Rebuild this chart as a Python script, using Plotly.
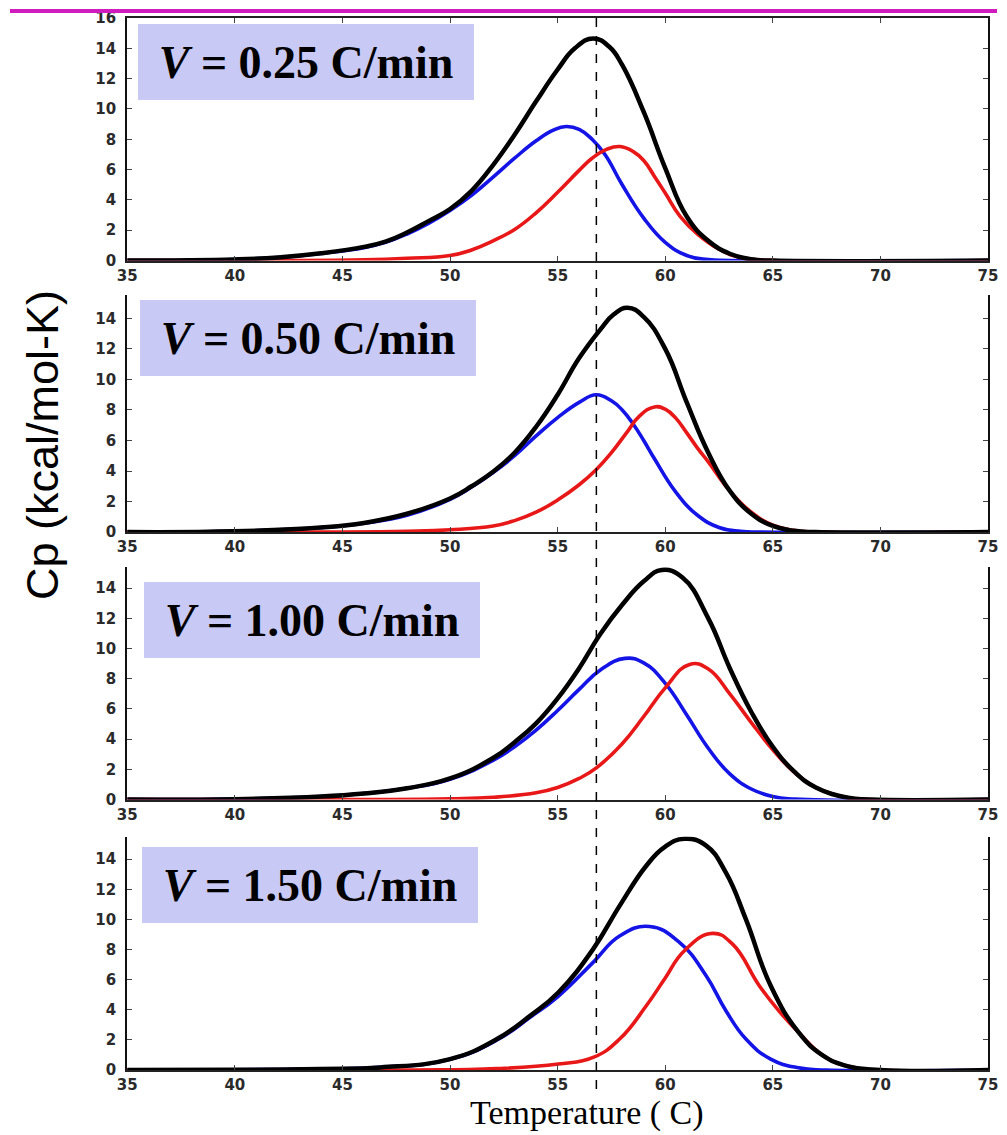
import plotly.graph_objects as go

# ---------------- data ----------------
RATES = ["0.25", "0.50", "1.00", "1.50"]
X_TICKS = [35, 40, 45, 50, 55, 60, 65, 70, 75]
Y_TICKS_TOP = [0, 2, 4, 6, 8, 10, 12, 14, 16]
Y_TICKS = [0, 2, 4, 6, 8, 10, 12, 14]
REF_T = 56.8  # dashed reference temperature

# Panel 1 : V = 0.25 C/min
T1_black = [35, 40, 42, 44, 46, 47, 48, 49, 50, 51, 52, 53, 54, 55, 55.8, 56.65, 57.4, 58, 59, 60, 61, 62, 63, 64, 65, 75]
Cp1_black = [0, 0.07, 0.2, 0.48, 0.9, 1.25, 1.85, 2.6, 3.4, 4.6, 6.3, 8.3, 10.5, 12.6, 14.0, 14.65, 14.1, 12.9, 9.8, 6.1, 2.9, 1.3, 0.45, 0.08, 0, 0]
T1_blue = [35, 40, 42, 44, 46, 47, 48, 49, 50, 51, 52, 53, 54, 54.8, 55.4, 56, 56.6, 57.2, 58, 59, 60, 61, 62, 63, 75]
Cp1_blue = [0, 0.07, 0.2, 0.47, 0.85, 1.2, 1.75, 2.45, 3.3, 4.3, 5.5, 6.75, 7.9, 8.6, 8.84, 8.65, 8.0, 7.0, 5.0, 2.8, 1.2, 0.33, 0.06, 0, 0]
T1_red = [35, 42, 46, 48, 50, 51, 52, 53, 54, 55, 56, 56.6, 57.3, 57.9, 58.5, 59, 59.5, 60, 60.7, 61.5, 62.5, 63.5, 65, 75]
Cp1_red = [0, 0, 0.05, 0.15, 0.33, 0.7, 1.3, 2.05, 3.15, 4.5, 5.95, 6.75, 7.35, 7.52, 7.2, 6.6, 5.55, 4.45, 2.9, 1.75, 0.75, 0.2, 0, 0]

# Panel 2 : V = 0.50 C/min
T2_black = [35, 40, 44, 46, 48, 50, 51, 52, 53, 54, 55, 56, 57, 57.6, 58.25, 59, 60, 61, 62, 63, 64, 65, 66, 67, 75]
Cp2_black = [0, 0.05, 0.3, 0.6, 1.2, 2.2, 3.0, 3.95, 5.2, 6.9, 9.0, 11.4, 13.3, 14.25, 14.7, 14.1, 12.0, 8.5, 5.2, 2.7, 1.2, 0.4, 0.08, 0, 0]
T2_blue = [35, 40, 44, 46, 48, 50, 51, 52, 53, 54, 55, 56, 56.8, 57.5, 58, 58.5, 59, 59.5, 60.5, 61.5, 62.5, 63.5, 64.5, 75]
Cp2_blue = [0, 0.05, 0.3, 0.58, 1.1, 2.15, 2.95, 3.9, 5.0, 6.3, 7.5, 8.5, 9.0, 8.6, 8.0, 7.1, 6.0, 4.8, 2.6, 1.1, 0.3, 0.05, 0, 0]
T2_red = [35, 44, 48, 50, 52, 53, 54, 55, 56, 56.8, 57.5, 58.2, 58.8, 59.5, 60, 60.5, 61, 61.5, 62, 63, 64, 65, 66, 67, 75]
Cp2_red = [0, 0, 0.05, 0.15, 0.4, 0.75, 1.3, 2.1, 3.1, 4.1, 5.2, 6.5, 7.6, 8.2, 8.05, 7.45, 6.5, 5.5, 4.6, 2.7, 1.3, 0.45, 0.1, 0, 0]

# Panel 3 : V = 1.00 C/min
T3_black = [35, 40, 44, 46, 48, 50, 52, 53, 54, 55, 56, 57, 58, 59, 59.83, 60.8, 62, 63, 64, 65, 66, 67, 68.5, 69.5, 75]
Cp3_black = [0, 0.03, 0.2, 0.4, 0.75, 1.4, 2.75, 3.8, 5.05, 6.7, 8.7, 11.0, 12.9, 14.45, 15.2, 14.7, 12.0, 8.7, 5.8, 3.5, 1.85, 0.8, 0.12, 0, 0]
T3_blue = [35, 40, 44, 46, 48, 50, 52, 53, 54, 55, 56, 57, 58.13, 59, 60, 61, 62, 63, 64, 65, 66, 75]
Cp3_blue = [0, 0.03, 0.2, 0.4, 0.75, 1.35, 2.6, 3.5, 4.6, 5.9, 7.3, 8.6, 9.35, 9.05, 7.7, 5.6, 3.4, 1.7, 0.7, 0.2, 0.03, 0]
T3_red = [35, 46, 50, 52, 54, 55, 56, 56.8, 58, 59, 60, 61.13, 62, 63, 64, 65, 66, 67, 68.5, 69.5, 75]
Cp3_red = [0, 0, 0.05, 0.15, 0.45, 0.8, 1.4, 2.1, 3.7, 5.5, 7.4, 8.95, 8.65, 7.0, 5.1, 3.3, 1.8, 0.8, 0.12, 0, 0]

# Panel 4 : V = 1.50 C/min
T4_black = [35, 40, 44, 46.77, 50, 52.18, 53.72, 55.03, 56.65, 57.88, 59.12, 59.97, 60.89, 61.9, 62.82, 63.75, 64.9, 66.2, 67.3, 68.5, 70, 75]
Cp4_black = [0, 0.02, 0.08, 0.18, 0.73, 2.06, 3.6, 5.15, 8.03, 10.9, 13.56, 14.8, 15.35, 14.9, 13.1, 10.0, 5.6, 2.5, 1.0, 0.25, 0, 0]
T4_blue = [35, 40, 44, 46.77, 50, 52.18, 53.72, 55.03, 56.65, 57.88, 59.27, 60.66, 61.9, 62.82, 63.75, 64.9, 66.2, 67.5, 75]
Cp4_blue = [0, 0.02, 0.08, 0.18, 0.72, 2.0, 3.5, 4.9, 7.15, 8.9, 9.53, 8.47, 6.26, 3.94, 2.06, 0.73, 0.15, 0, 0]
T4_red = [35, 48, 52.18, 55.03, 56.65, 57.88, 59.12, 59.97, 60.89, 62.2, 63.13, 64.37, 65.3, 66.2, 67.3, 68.5, 70, 75]
Cp4_red = [0, 0, 0.1, 0.4, 0.84, 2.06, 4.27, 6.04, 7.92, 9.07, 8.36, 5.6, 3.9, 2.5, 1.0, 0.25, 0, 0]

# ---------------- figure ----------------
W, H = 1007, 1135
# the photographed page is inset by ~8px; place elements so that
# they land at the reference pixel positions.
INSET = 8.0
SX = (W - 2 * INSET) / W
SY = (H - 2 * INSET) / H


def fx(px):  # reference pixel x -> paper fraction
    return (px - INSET) / (W * SX)


def fy(py):  # reference pixel y (from top) -> paper fraction (from bottom)
    return 1 - (py - INSET) / (H * SY)


def sz(v):  # reference pixel size -> design size
    return v / SX


panels = [
    (T1_black, Cp1_black, T1_blue, Cp1_blue, T1_red, Cp1_red),
    (T2_black, Cp2_black, T2_blue, Cp2_blue, T2_red, Cp2_red),
    (T3_black, Cp3_black, T3_blue, Cp3_blue, T3_red, Cp3_red),
    (T4_black, Cp4_black, T4_blue, Cp4_blue, T4_red, Cp4_red),
]
# pixel layout of each panel: (top, bottom, ymax), box (left, top)
panel_px = [(17, 260, 16.0), (295, 532, 15.5), (567, 800, 15.4), (837, 1071, 15.5)]
box_px = [(137, 23), (139, 300), (143, 582), (141, 848)]
X_LEFT, X_RIGHT = 125.7, 990.0

BLUE = "#1414E6"
RED = "#E81818"
fig = go.Figure()
for i, (tb, cb, tu, cu, tr, cr) in enumerate(panels):
    xa = "x" if i == 0 else f"x{i+1}"
    ya = "y" if i == 0 else f"y{i+1}"
    fig.add_trace(go.Scatter(x=tu, y=cu, mode="lines", line=dict(color=BLUE, width=3.6, shape="spline", smoothing=1.3),
                             xaxis=xa, yaxis=ya, showlegend=False, hoverinfo="skip"))
    fig.add_trace(go.Scatter(x=tr, y=cr, mode="lines", line=dict(color=RED, width=3.6, shape="spline", smoothing=1.3),
                             xaxis=xa, yaxis=ya, showlegend=False, hoverinfo="skip"))
    fig.add_trace(go.Scatter(x=tb, y=cb, mode="lines", line=dict(color="black", width=4.5, shape="spline", smoothing=1.3),
                             xaxis=xa, yaxis=ya, showlegend=False, hoverinfo="skip"))

tickfont = dict(family="DejaVu Sans", size=15, color="#2a2a2a", weight="bold")
layout = dict(
    autosize=True,
    margin=dict(l=0, r=0, t=0, b=0),
    paper_bgcolor="white", plot_bgcolor="white",
    showlegend=False,
)
xdom = [fx(X_LEFT), fx(X_RIGHT)]
for i, (top, bot, ymax) in enumerate(panel_px):
    sx = "" if i == 0 else str(i + 1)
    layout["xaxis" + sx] = dict(
        domain=xdom, range=[35, 75], anchor="y" + sx,
        tickvals=X_TICKS, ticktext=[str(v) for v in X_TICKS],
        ticks="inside", ticklen=5, tickwidth=1, tickcolor="#444",
        showline=True, linecolor="#222", linewidth=2,
        mirror="ticks" if i == 0 else False,
        showgrid=False, zeroline=False, tickfont=tickfont, ticklabelstandoff=0,
        ticklabeloverflow="allow", fixedrange=True,
    )
    layout["yaxis" + sx] = dict(
        domain=[fy(bot), fy(top)], range=[0, ymax], anchor="x" + sx,
        tickvals=Y_TICKS_TOP if i == 0 else Y_TICKS,
        ticks="inside", ticklen=5, tickwidth=1, tickcolor="#444",
        showline=True, linecolor="#111", linewidth=2, mirror="ticks",
        showgrid=False, zeroline=False, tickfont=tickfont, ticklabelstandoff=6,
        ticklabeloverflow="allow", fixedrange=True,
    )
fig.update_layout(**layout)

# Label boxes
annotations = []
for i, ((top, bot, ymax), (bl, bt), rate) in enumerate(zip(panel_px, box_px, RATES)):
    sx = "" if i == 0 else str(i + 1)
    annotations.append(dict(
        xref=f"x{sx} domain", yref=f"y{sx} domain",
        x=(bl - X_LEFT) / (X_RIGHT - X_LEFT), y=(bot - bt) / (bot - top),
        xanchor="left", yanchor="top",
        width=336, height=76, bgcolor="#C9C9F6", borderpad=0, borderwidth=0,
        align="center", valign="middle", showarrow=False,
        text=f"<b><i>V</i> = {rate} C/min</b>",
        font=dict(family="Liberation Serif", size=46, color="black"),
    ))
annotations.append(dict(
    xref="paper", yref="paper", x=fx(40), y=fy(445), textangle=-90,
    text="Cp (kcal/mol-K)", showarrow=False, xanchor="center", yanchor="middle",
    font=dict(family="Liberation Sans", size=45, color="black"),
))
annotations.append(dict(
    xref="paper", yref="paper", x=fx(587), y=fy(1114),
    text="Temperature ( C)", showarrow=False, xanchor="center", yanchor="middle",
    font=dict(family="Liberation Serif", size=34, color="black"),
))
fig.update_layout(annotations=annotations)

# top magenta band and dashed reference line
fig.add_shape(type="rect", xref="paper", yref="paper", x0=0, x1=1, y0=fy(12), y1=1,
              fillcolor="#D01CBE", line=dict(width=0), layer="above")
fig.add_shape(type="line", xref="x4", yref="paper", x0=REF_T, x1=REF_T, y0=fy(1090), y1=fy(12),
              line=dict(color="black", width=1.5, dash="dash"), layer="above")

fig.write_html(
    "out.html",
    config={"displayModeBar": False, "responsive": True},
    default_width="100vw",
    default_height="100vh",
    post_script="document.documentElement.style.margin='0';document.body.style.margin='0';"
                "document.body.style.padding='0';document.body.style.overflow='hidden';"
                "document.documentElement.style.overflow='hidden';",
)
